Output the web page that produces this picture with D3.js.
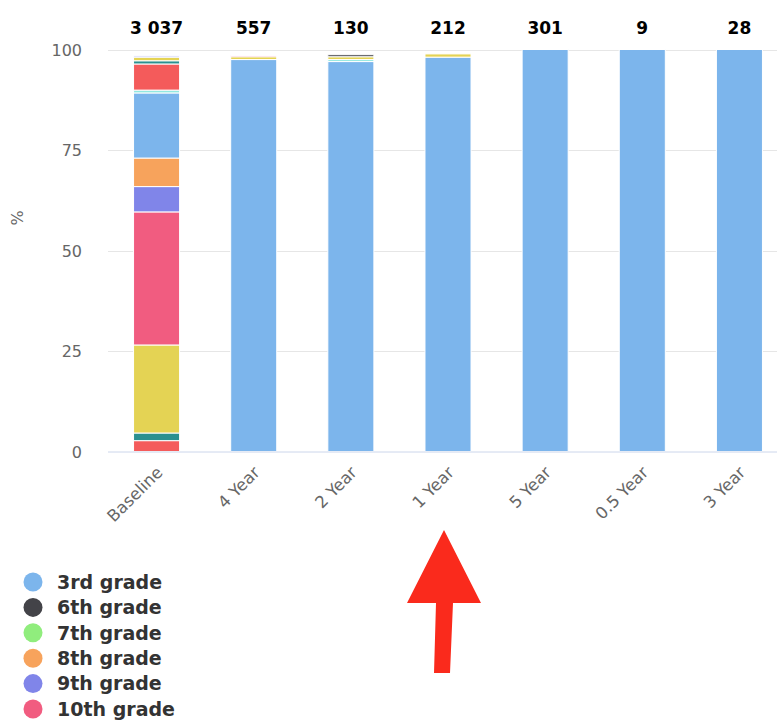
<!DOCTYPE html>
<html>
<head>
<meta charset="utf-8">
<script src="https://cdn.jsdelivr.net/npm/d3@7"></script>
<style>
  html, body { margin: 0; padding: 0; background: #fff; }
  svg { display: block; font-family: "DejaVu Sans", sans-serif; }
</style>
</head>
<body>
<svg id="chart" width="777" height="723"></svg>
<script>
// ---------- data ----------
const categories = ["Baseline", "4 Year", "2 Year", "1 Year", "5 Year", "0.5 Year", "3 Year"];
const totalLabels = ["3 037", "557", "130", "212", "301", "9", "28"];
const yTicks = [0, 25, 50, 75, 100];

const seriesNames = [
  "3rd grade", "6th grade", "7th grade", "8th grade", "9th grade", "10th grade",
  "11th grade", "12th grade, no diploma", "Associate degree", "Bachelor's degree",
  "Don't know", "Doctorate", "GED", "Graduate degree", "High school diploma",
  "High school graduate", "Some college", "Technical school", "Vocational"
];
const seriesColors = [
  "#7cb5ec", "#434348", "#90ed7d", "#f7a35c", "#8085e9", "#f15c80",
  "#e4d354", "#2b908f", "#f45b5b", "#91e8e1",
  "#7cb5ec", "#434348", "#90ed7d", "#f7a35c", "#8085e9", "#f15c80",
  "#e4d354", "#2b908f", "#f45b5b"
];
// percent values per series, in category order
const s0  = [0, 0, 0, 0, 0, 0, 0];
const s1  = [0, 0, 0.5, 0, 0, 0, 0];
const s2  = [0, 0, 0, 0, 0, 0, 0];
const s3  = [0, 0, 0, 0, 0, 0, 0];
const s4  = [0.3, 0, 0, 0, 0, 0, 0];
const s5  = [0, 0.3, 0, 0, 0, 0, 0];
const s6  = [0.9, 0.7, 0.7, 0.8, 0, 0, 0];
const s7  = [0.8, 0, 0, 0, 0, 0, 0];
const s8  = [6.5, 0, 0, 0, 0, 0, 0];
const s9  = [0.7, 0, 0.5, 0, 0, 0, 0];
const s10 = [16.2, 97.5, 97.0, 98.1, 100, 100, 100];
const s11 = [0, 0, 0, 0, 0, 0, 0];
const s12 = [0, 0, 0, 0, 0, 0, 0];
const s13 = [7.1, 0, 0, 0, 0, 0, 0];
const s14 = [6.3, 0, 0, 0, 0, 0, 0];
const s15 = [33.1, 0, 0, 0, 0, 0, 0];
const s16 = [21.9, 0, 0, 0, 0, 0, 0];
const s17 = [1.9, 0, 0, 0, 0, 0, 0];
const s18 = [2.7, 0, 0, 0, 0, 0, 0];
const seriesValues = [s0, s1, s2, s3, s4, s5, s6, s7, s8, s9, s10, s11, s12, s13, s14, s15, s16, s17, s18];

// ---------- layout ----------
const W = 777, H = 723;
const svg = d3.select("#chart");
const plot = { left: 108, right: 788, top: 49.5, bottom: 451.5 };

const x = d3.scaleBand().domain(categories)
  .range([plot.left, plot.right]).paddingInner(0.526).paddingOuter(0.263);
const y = d3.scaleLinear().domain([0, 100]).range([plot.bottom, plot.top]);

// gridlines
svg.append("g").selectAll("line").data(yTicks.filter(d => d > 0)).join("line")
  .attr("x1", plot.left).attr("x2", plot.right)
  .attr("y1", d => Math.round(y(d)) + 0.5).attr("y2", d => Math.round(y(d)) + 0.5)
  .attr("stroke", "#e6e6e6").attr("stroke-width", 1);

// y axis labels
const yAxis = d3.axisLeft(y).tickValues(yTicks).tickSize(0).tickPadding(0);
const gy = svg.append("g").attr("transform", `translate(${plot.left - 26},0)`).call(yAxis);
gy.select(".domain").remove();
gy.selectAll("text").attr("font-size", 16).attr("fill", "#666")
  .attr("font-family", "DejaVu Sans, sans-serif").attr("dy", "0.35em");

svg.append("text").attr("transform", "translate(23,218) rotate(-90)")
  .attr("text-anchor", "middle").attr("font-size", 16).attr("fill", "#666").text("%");

// stacked data
const rows = categories.map((c, i) => {
  const r = { category: c };
  seriesValues.forEach((v, k) => { r["s" + k] = v[i]; });
  return r;
});
const keys = seriesValues.map((v, k) => "s" + k).reverse(); // last series at bottom
const stacked = d3.stack().keys(keys)(rows);

const layers = svg.append("g").selectAll("g").data(stacked).join("g")
  .attr("fill", d => seriesColors[+d.key.slice(1)]);
layers.selectAll("rect").data(d => d.filter(p => p[1] - p[0] > 0)).join("rect")
  .attr("x", d => x(d.data.category))
  .attr("width", x.bandwidth())
  .attr("y", d => y(d[1]))
  .attr("height", d => y(d[0]) - y(d[1]))
  .attr("stroke", "#fff").attr("stroke-width", 1);

// x axis
const xAxis = d3.axisBottom(x).tickSize(0).tickPadding(0);
const gx = svg.append("g").attr("transform", `translate(0,${plot.bottom})`).call(xAxis);
gx.select(".domain").attr("stroke", "#ccd6eb").attr("d", `M${plot.left},0.5H${plot.right}`);
gx.selectAll("text")
  .attr("font-size", 16.5).attr("fill", "#666").attr("font-family", "DejaVu Sans, sans-serif")
  .attr("text-anchor", "end").attr("dy", 0).attr("y", 0)
  .attr("transform", "translate(7,22) rotate(-45)");

// totals above columns
svg.append("g").selectAll("text").data(categories).join("text")
  .attr("x", d => x(d) + x.bandwidth() / 2).attr("y", 34)
  .attr("text-anchor", "middle").attr("font-size", 17).attr("font-weight", "bold")
  .attr("fill", "#000").text((d, i) => totalLabels[i]);

// legend (items below the window edge are cut off, as in the original; only
// the symbols of the first hidden item peek in)
const legendTop = 582, legendStep = 25.4;
const legend = svg.append("g").selectAll("g").data(seriesNames).join("g")
  .attr("transform", (d, i) => `translate(33,${legendTop + i * legendStep})`);
legend.append("circle").attr("r", 9.5).attr("fill", (d, i) => seriesColors[i]);
legend.filter((d, i) => legendTop + i * legendStep + 9 < H)
  .append("text").attr("x", 24).attr("dy", "0.36em")
  .attr("font-size", 19).attr("font-weight", "bold").attr("fill", "#333").text(d => d);

// red arrow annotation
svg.append("path")
  .attr("d", "M444,530 L481,603 L453,603 L450,673 L434,673 L436,603 L407,603 Z")
  .attr("fill", "#fa2a1c");
</script>
</body>
</html>
